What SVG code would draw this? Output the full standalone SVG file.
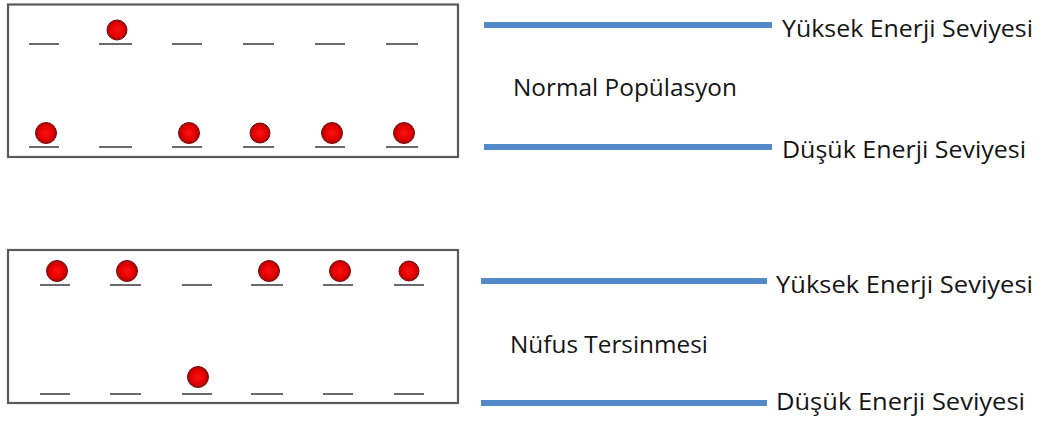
<svg xmlns="http://www.w3.org/2000/svg" width="1042" height="421" viewBox="0 0 1042 421">
<style>
.box{fill:#fff;stroke:#5a5a5a;stroke-width:2.2}
.tick{stroke:#6a6a6a;stroke-width:2}
.atom{fill:url(#rg);stroke:#7a0a0a;stroke-width:1}
.lvl{stroke:#5289c8;stroke-width:6}
.lbl{font-family:"Open Sans","Liberation Sans",sans-serif;font-size:23px;fill:#151515}
</style>
<defs>
<radialGradient id="rg" cx="0.5" cy="0.5" r="0.5">
<stop offset="0" stop-color="#ff1010"/>
<stop offset="0.7" stop-color="#e00000"/>
<stop offset="1" stop-color="#a00808"/>
</radialGradient>
</defs>
<rect width="1042" height="421" fill="#fff"/>
<g id="normal-box">
<rect class="box" x="8" y="4.5" width="450" height="152.5"/>
<g class="tick-row">
<line class="tick" x1="29" y1="44" x2="59" y2="44"/>
<line class="tick" x1="99" y1="44" x2="132" y2="44"/>
<line class="tick" x1="172" y1="44" x2="202" y2="44"/>
<line class="tick" x1="243" y1="44" x2="274" y2="44"/>
<line class="tick" x1="315" y1="44" x2="345" y2="44"/>
<line class="tick" x1="386" y1="44" x2="418" y2="44"/>
<line class="tick" x1="29" y1="147" x2="59" y2="147"/>
<line class="tick" x1="99" y1="147" x2="132" y2="147"/>
<line class="tick" x1="172" y1="147" x2="202" y2="147"/>
<line class="tick" x1="243" y1="147" x2="274" y2="147"/>
<line class="tick" x1="315" y1="147" x2="345" y2="147"/>
<line class="tick" x1="386" y1="147" x2="418" y2="147"/>
</g>
<circle class="atom" cx="117" cy="30" r="10"/>
<circle class="atom" cx="46" cy="133" r="10.5"/>
<circle class="atom" cx="189" cy="133" r="10.5"/>
<circle class="atom" cx="260" cy="133" r="10"/>
<circle class="atom" cx="332" cy="133" r="10.5"/>
<circle class="atom" cx="404" cy="133" r="10.5"/>
</g>
<g id="inversion-box">
<rect class="box" x="8" y="250" width="450" height="153"/>
<g class="tick-row">
<line class="tick" x1="40" y1="285" x2="70" y2="285"/>
<line class="tick" x1="110" y1="285" x2="141" y2="285"/>
<line class="tick" x1="182" y1="285" x2="212" y2="285"/>
<line class="tick" x1="251" y1="285" x2="283" y2="285"/>
<line class="tick" x1="323" y1="285" x2="353" y2="285"/>
<line class="tick" x1="394" y1="285" x2="424" y2="285"/>
<line class="tick" x1="40" y1="394" x2="70" y2="394"/>
<line class="tick" x1="110" y1="394" x2="141" y2="394"/>
<line class="tick" x1="182" y1="394" x2="212" y2="394"/>
<line class="tick" x1="251" y1="394" x2="283" y2="394"/>
<line class="tick" x1="323" y1="394" x2="353" y2="394"/>
<line class="tick" x1="394" y1="394" x2="424" y2="394"/>
</g>
<circle class="atom" cx="57" cy="271" r="10.5"/>
<circle class="atom" cx="127" cy="271" r="10.5"/>
<circle class="atom" cx="269" cy="271" r="10.5"/>
<circle class="atom" cx="340" cy="271" r="10.5"/>
<circle class="atom" cx="409" cy="271" r="10"/>
<circle class="atom" cx="198" cy="377" r="10.5"/>
</g>
<g id="normal-levels">
<line class="lvl" x1="484" y1="25" x2="772" y2="25"/>
<text class="lbl" x="782" y="37" textLength="251" lengthAdjust="spacingAndGlyphs">Yüksek Enerji Seviyesi</text>
<text class="lbl" x="513" y="96" textLength="224" lengthAdjust="spacingAndGlyphs">Normal Popülasyon</text>
<line class="lvl" x1="484" y1="147" x2="772" y2="147"/>
<text class="lbl" x="782" y="158" textLength="244" lengthAdjust="spacingAndGlyphs">Düşük Enerji Seviyesi</text>
</g>
<g id="inversion-levels">
<line class="lvl" x1="481" y1="281" x2="767" y2="281"/>
<text class="lbl" x="776" y="293" textLength="257" lengthAdjust="spacingAndGlyphs">Yüksek Enerji Seviyesi</text>
<text class="lbl" x="510" y="353" textLength="198" lengthAdjust="spacingAndGlyphs">Nüfus Tersinmesi</text>
<line class="lvl" x1="481" y1="403" x2="767" y2="403"/>
<text class="lbl" x="776" y="410" textLength="249" lengthAdjust="spacingAndGlyphs">Düşük Enerji Seviyesi</text>
</g>
<g id="connectors"></g>
</svg>
